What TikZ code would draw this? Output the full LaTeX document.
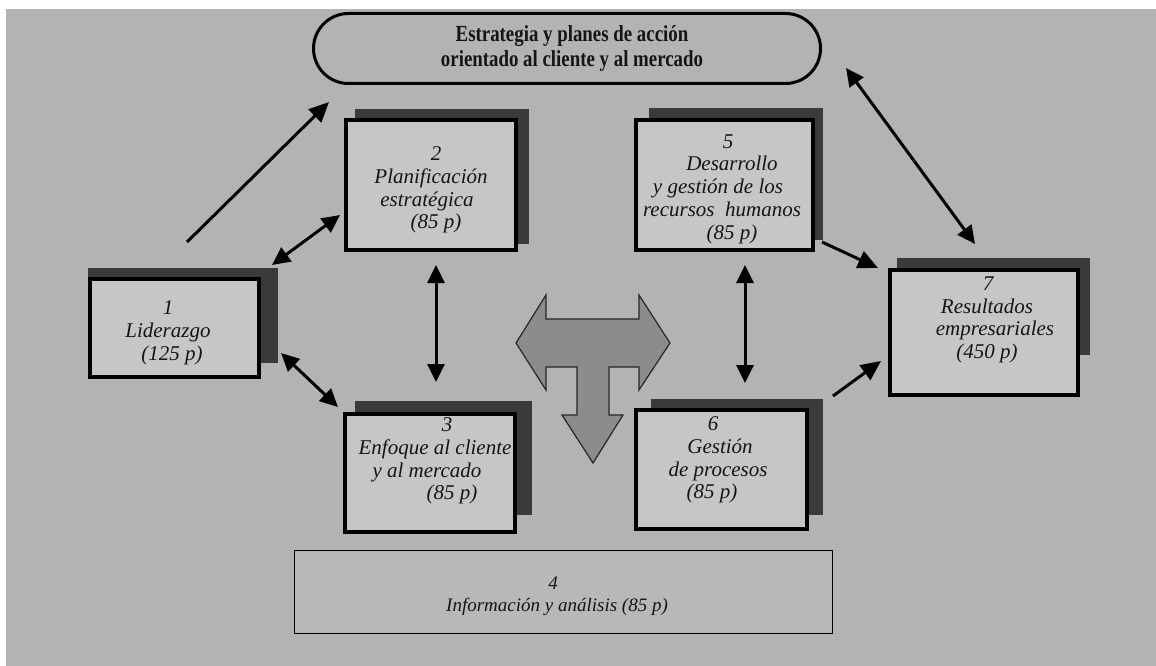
\documentclass[tikz,border=0pt]{standalone}
\usepackage{fontspec}
\setmainfont{Liberation Serif}
\newfontfamily\narrowbold[FakeStretch=0.82]{Liberation Serif}
\usetikzlibrary{arrows.meta}
\definecolor{bg}{HTML}{B3B3B3}
\definecolor{boxfill}{HTML}{C6C6C6}
\definecolor{infofill}{HTML}{B8B8B8}
\definecolor{shadowc}{HTML}{3A3A3A}
\definecolor{tfill}{HTML}{8C8C8C}
\definecolor{ink}{HTML}{151515}
% shift one centred line sideways by #1 pt
\newcommand\sh[2]{\kern#1pt#2\kern-#1pt}
\begin{document}
\begin{tikzpicture}[x=1pt,y=-1pt,
  box/.style={draw=black, line width=4pt, fill=boxfill, inner sep=0pt, outer sep=0pt},
  infobox/.style={draw=black, line width=1.5pt, fill=infofill, inner sep=0pt, outer sep=0pt},
  goalshape/.style={draw=black, line width=3pt, rounded corners=35pt, inner sep=0pt, outer sep=0pt},
  goaltxt/.style={font=\narrowbold\fontsize{23}{25}\selectfont\bfseries, align=center, text=ink, inner sep=0pt},
  boxtxt/.style={font=\fontsize{21}{22.7}\selectfont\itshape, align=center, text=ink, inner sep=0pt},
  infotxt/.style={font=\fontsize{19}{22}\selectfont\itshape, align=center, text=ink, inner sep=0pt},
  link/.style={line width=3pt, -{Triangle[length=20pt,width=18pt]}},
  dlink/.style={line width=3pt, {Triangle[length=18pt,width=17pt]}-{Triangle[length=18pt,width=17pt]}},
  bigarrow/.style={draw=black!85, line width=1.2pt, fill=tfill, line join=miter}
]
\useasboundingbox (0,0) rectangle (1156,666);
\fill[white] (0,0) rectangle (1156,666);
\fill[bg] (6,9) rectangle (1156,666);

% title
\node[goalshape, minimum width=507pt, minimum height=70pt] (goal) at (567,48.5) {};
\node[goaltxt] (goaltext) at (572,48) {Estrategia y planes de acción\\orientado al cliente y al mercado};

% box shadows
\fill[shadowc] (88,268) rectangle (278,363);
\fill[shadowc] (355,109) rectangle (529,244);
\fill[shadowc] (355,401) rectangle (532,515);
\fill[shadowc] (649,108) rectangle (823,240);
\fill[shadowc] (651,399) rectangle (823,515);
\fill[shadowc] (897,258) rectangle (1090,355);

% criteria boxes
\node[box, minimum width=169pt, minimum height=98pt]  (b1) at (174.5,328) {};
\node[box, minimum width=170pt, minimum height=130pt] (b2) at (431,185) {};
\node[box, minimum width=170pt, minimum height=118pt] (b3) at (430,473) {};
\node[box, minimum width=177pt, minimum height=130pt] (b5) at (724.5,185) {};
\node[box, minimum width=171pt, minimum height=119pt] (b6) at (721.5,469.5) {};
\node[box, minimum width=188pt, minimum height=125pt] (b7) at (984,332.5) {};
\node[infobox, minimum width=538pt, minimum height=83pt] (b4) at (563.5,592) {};

% box texts
\node[boxtxt] (t1) at (168,333) {1\\Liderazgo\\\sh{4}{(125 p)}};
\node[boxtxt] (t2) at (432,190) {\sh{4}{2}\\\sh{-1}{Planificación}\\\sh{-5}{estratégica}\\\sh{4}{(85 p)}};
\node[boxtxt] (t3) at (437,461) {\sh{10}{3}\\\sh{-2}{Enfoque al cliente}\\\sh{-10}{y al mercado}\\\sh{15}{(85 p)}};
\node[boxtxt] (t5) at (724,189) {\sh{4}{5}\\\sh{8}{Desarrollo}\\\sh{-6}{y gestión de los}\\\sh{-2}{recursos\ \ humanos}\\\sh{8}{(85 p)}};
\node[boxtxt] (t6) at (716,460) {\sh{-3}{6}\\\sh{4}{Gestión}\\\sh{2}{de procesos}\\\sh{-4}{(85 p)}};
\node[boxtxt] (t7) at (990,320) {\sh{-2}{7}\\\sh{-3}{Resultados}\\\sh{5}{empresariales}\\\sh{-3}{(450 p)}};
\node[infotxt] (t4) at (557,596) {\sh{-4}{4}\\Información y análisis (85 p)};

% central T-shaped block arrow
\draw[bigarrow] (516,343) -- (546,295) -- (546,319) -- (639,319) -- (639,295)
  -- (670,343) -- (639,390) -- (639,367) -- (609,367) -- (609,415) -- (623,415)
  -- (593,463) -- (562,415) -- (577,415) -- (577,367) -- (546,367) -- (546,390) -- cycle;

% connector end points
\coordinate (l1s) at (187,242);  \coordinate (l1e) at (329,102);
\coordinate (l2s) at (272,265);  \coordinate (l2e) at (340,215);
\coordinate (l3s) at (281,353);  \coordinate (l3e) at (338,407);
\coordinate (l4s) at (436,265);  \coordinate (l4e) at (436,382);
\coordinate (l5s) at (745,265);  \coordinate (l5e) at (745,383);
\coordinate (l6s) at (822,242);  \coordinate (l6e) at (878,268);
\coordinate (l7s) at (833,396);  \coordinate (l7e) at (881,361);
\coordinate (l8s) at (846,68);   \coordinate (l8e) at (975,244);

% connectors
\draw[link]  (l1s) -- (l1e);
\draw[dlink] (l2s) -- (l2e);
\draw[dlink] (l3s) -- (l3e);
\draw[dlink] (l4s) -- (l4e);
\draw[dlink] (l5s) -- (l5e);
\draw[link]  (l6s) -- (l6e);
\draw[link]  (l7s) -- (l7e);
\draw[dlink] (l8s) -- (l8e);
\end{tikzpicture}
\end{document}
